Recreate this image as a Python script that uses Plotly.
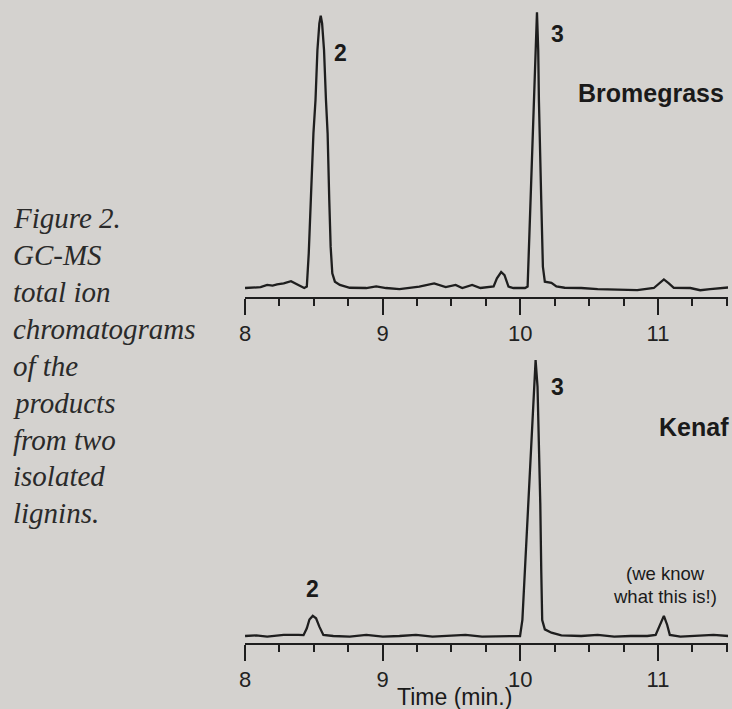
import plotly.graph_objects as go

W, H = 732, 709

# ---- data (time in min, relative intensity) ----
t_brome = [8.000, 8.050, 8.113, 8.161, 8.200, 8.233, 8.281, 8.334, 8.389, 8.430,
           8.449, 8.463, 8.478, 8.497, 8.512, 8.526, 8.540, 8.550, 8.560, 8.574,
           8.588, 8.600, 8.612, 8.622, 8.634, 8.653, 8.689, 8.761, 8.881, 8.953,
           9.025, 9.122, 9.266, 9.374, 9.458, 9.530, 9.578, 9.650, 9.710, 9.806,
           9.830, 9.861, 9.885, 9.914, 9.950, 10.034, 10.053, 10.075, 10.099, 10.111,
           10.121, 10.130, 10.135, 10.152, 10.164, 10.178, 10.226, 10.262, 10.322, 10.442,
           10.562, 10.706, 10.850, 10.970, 11.019, 11.043, 11.079, 11.115, 11.235, 11.307,
           11.379, 11.451, 11.511]
i_brome = [0.0, 0.2, 0.3, 1.1, 0.9, 1.3, 1.7, 2.5, 1.1, 0.0,
           0.5, 12.6, 31.9, 56.1, 68.2, 86.3, 96.0, 98.8, 96.0, 86.3,
           68.2, 56.1, 31.9, 15.0, 5.3, 2.3, 1.1, 0.1, 0.0, 0.6,
           0.0, -0.4, 0.5, 1.7, 0.3, 1.1, 0.0, 1.1, 0.0, 0.6,
           3.5, 5.8, 4.7, 0.5, 0.0, 0.0, 0.5, 31.9, 68.2, 86.3,
           100.0, 86.3, 68.2, 31.9, 7.7, 2.3, 1.9, 0.6, 0.1, 0.0,
           -0.4, -0.6, -0.8, 0.0, 1.9, 3.1, 1.7, 0.1, 0.0, -0.8,
           -0.4, 0.0, 0.2]

t_kenaf = [8.000, 8.080, 8.161, 8.281, 8.389, 8.425, 8.449, 8.468, 8.492, 8.516,
           8.540, 8.569, 8.641, 8.761, 8.881, 9.001, 9.122, 9.242, 9.362, 9.482,
           9.602, 9.722, 9.842, 9.962, 9.998, 10.015, 10.034, 10.058, 10.082, 10.099,
           10.111, 10.125, 10.135, 10.145, 10.152, 10.159, 10.178, 10.226, 10.298, 10.442,
           10.562, 10.682, 10.802, 10.922, 10.983, 11.019, 11.043, 11.067, 11.086, 11.163,
           11.283, 11.403, 11.511]
i_kenaf = [0.0, 0.2, -0.2, 0.4, 0.4, 0.3, 2.8, 6.0, 7.3, 6.4,
           3.4, 0.4, 0.0, -0.2, 0.4, -0.2, 0.0, 0.4, -0.2, 0.0,
           0.4, -0.2, 0.0, 0.0, 0.0, 5.8, 23.9, 48.1, 72.3, 90.4,
           100.1, 90.4, 72.3, 48.1, 23.9, 5.8, 2.4, 1.2, 0.2, 0.0,
           0.4, -0.2, 0.0, 0.0, 0.4, 4.6, 7.3, 4.0, 0.4, -0.2,
           0.0, 0.4, 0.0]

tick_vals = [8, 9, 10, 11]
tick_text = ["8", "9", "10", "11"]

caption_lines = ["Figure 2.", "GC-MS", "total ion", "chromatograms", "of the",
                 "products", "from two", "isolated", "lignins."]

# ---- styling ----
BG = "#d4d2cf"
INK = "#1e1e1e"
SANS = "Liberation Sans, Arial, sans-serif"
SERIF = "Liberation Serif, Times New Roman, serif"


def px(x):
    return x / W


def py(y):
    return 1 - y / H


fig = go.Figure()
fig.add_trace(go.Scatter(x=t_brome, y=i_brome, mode="lines",
                         line=dict(color=INK, width=2.3), xaxis="x", yaxis="y",
                         showlegend=False, hoverinfo="skip"))
fig.add_trace(go.Scatter(x=t_kenaf, y=i_kenaf, mode="lines",
                         line=dict(color=INK, width=2.3), xaxis="x2", yaxis="y2",
                         showlegend=False, hoverinfo="skip"))

xdom = [px(241), px(728)]
axis_common = dict(
    domain=xdom, range=[8, 11.509], showgrid=False, zeroline=False,
    showline=True, linecolor=INK, linewidth=2,
    ticks="outside", ticklen=16, tickwidth=2, tickcolor=INK,
    tickvals=tick_vals, ticktext=tick_text,
    tickfont=dict(family=SANS, size=22, color="#222"),
    minor=dict(ticks="outside", dtick=0.25, tick0=8, ticklen=7,
               tickwidth=2, tickcolor=INK, showgrid=False),
    fixedrange=True,
)
yaxis_common = dict(visible=False, showgrid=False, zeroline=False, fixedrange=True)

fig.update_layout(
    width=W, height=H, margin=dict(l=0, r=0, t=0, b=0),
    paper_bgcolor=BG, plot_bgcolor=BG,
    xaxis=dict(axis_common, anchor="y"),
    yaxis=dict(yaxis_common, domain=[py(297), 1.0], range=[-3.26, 104.46]),
    xaxis2=dict(axis_common, anchor="y2"),
    yaxis2=dict(yaxis_common, domain=[py(642.7), py(340)], range=[-2.43, 107.36]),
)

ann = []


def add_text(text, x, y, size, bold=False, family=SANS, color="#1a1a1a",
             xanchor="center", italic=False):
    t = text
    if bold:
        t = "<b>" + t + "</b>"
    if italic:
        t = "<i>" + t + "</i>"
    ann.append(dict(text=t, x=px(x), y=py(y), xref="paper", yref="paper",
                    xanchor=xanchor, yanchor="middle", showarrow=False,
                    font=dict(family=family, size=size, color=color)))


add_text("2", 337, 53, 23, bold=True)
add_text("3", 556, 34, 23, bold=True)
add_text("Bromegrass", 650, 93, 25, bold=True)
add_text("3", 556, 387, 23, bold=True)
add_text("Kenaf", 694, 427, 25, bold=True)
add_text("2", 309, 589, 23, bold=True)
add_text("(we know", 665, 573, 18.5)
add_text("what this is!)", 664, 596, 18.5)
add_text("Time (min.)", 452, 697, 23)

cap_y = [218, 255, 292, 329, 366, 403, 440, 476, 513]
for line, yy in zip(caption_lines, cap_y):
    add_text(line, 5, yy, 29, family=SERIF, color="#2a2a2a", xanchor="left",
             italic=True)

fig.update_layout(annotations=ann)
fig.write_html("out.html")
